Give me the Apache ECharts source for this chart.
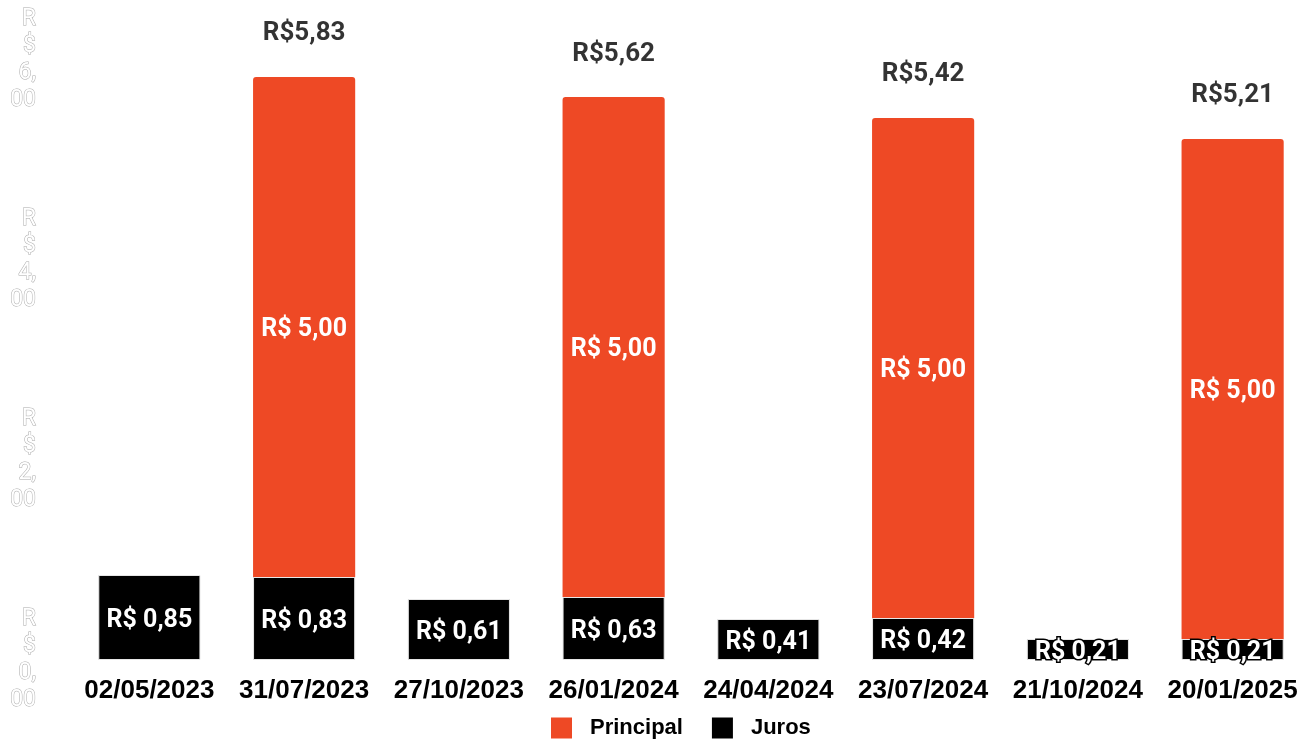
<!doctype html>
<html>
<head>
<meta charset="utf-8">
<title>Principal e Juros</title>
<script src="https://cdn.jsdelivr.net/npm/echarts@6/dist/echarts.min.js"></script>
<style>
html,body{margin:0;padding:0;background:#fff;}
#chart{width:1310px;height:740px;}
</style>
</head>
<body>
<div id="chart"></div>
<script type="text/javascript">
// datas de pagamento
var datas = ['02/05/2023', '31/07/2023', '27/10/2023', '26/01/2024', '24/04/2024', '23/07/2024', '21/10/2024', '20/01/2025'];
var juros = [0.85, 0.83, 0.61, 0.63, 0.41, 0.42, 0.21, 0.21];
var principal = [null, 5.00, null, 5.00, null, 5.00, null, 5.00];
var totais = [null, 5.83, null, 5.62, null, 5.42, null, 5.21];

function brl(v) {
    return v.toFixed(2).replace('.', ',');
}

var myChart = echarts.init(document.getElementById('chart'));

option = {
    animation: false,
    grid: {
        left: 72,
        right: -1,
        top: 60,
        bottom: 80
    },
    legend: {
        data: ['Principal', 'Juros'],
        top: 712,
        left: 546,
        icon: 'rect',
        itemWidth: 21,
        itemHeight: 21,
        itemGap: 29,
        itemStyle: {
            borderWidth: 0
        },
        textStyle: {
            fontFamily: 'Liberation Sans',
            fontWeight: 'bold',
            fontSize: 22,
            color: '#000',
            padding: [0, 0, 0, 13]
        }
    },
    xAxis: {
        type: 'category',
        data: datas,
        axisLine: {show: false},
        axisTick: {show: false},
        axisLabel: {
            interval: 0,
            margin: 18,
            fontFamily: 'Liberation Sans',
            fontWeight: 'bold',
            fontSize: 26,
            color: '#000'
        }
    },
    yAxis: {
        type: 'value',
        min: 0,
        max: 6,
        interval: 2,
        splitLine: {show: false},
        axisLine: {show: false},
        axisTick: {show: false},
        axisLabel: {
            margin: 36,
            align: 'right',
            fontFamily: 'Roboto',
            fontSize: 23,
            lineHeight: 27,
            color: '#fff',
            textBorderColor: '#aaa',
            textBorderWidth: 1,
            formatter: function (v) {
                var s = brl(v);
                // quebra o texto caractere a caractere como no original
                return 'R\n$\n' + s.slice(0, 2) + '\n' + s.slice(2);
            }
        }
    },
    series: [
        {
            name: 'Juros',
            type: 'bar',
            stack: 'total',
            barWidth: '66%',
            data: juros,
            itemStyle: {
                color: '#000',
                borderColor: '#e6e6e6',
                borderWidth: 1
            },
            label: {
                show: true,
                position: 'inside',
                offset: [0, 3],
                fontFamily: 'Roboto',
                fontWeight: 'bold',
                fontSize: 25,
                color: '#fff',
                textBorderColor: '#000',
                textBorderWidth: 3,
                formatter: function (p) { return 'R$ ' + brl(p.value); }
            }
        },
        {
            name: 'Principal',
            type: 'bar',
            stack: 'total',
            barWidth: '66%',
            data: principal,
            itemStyle: {
                color: '#EE4925',
                borderRadius: [3, 3, 0, 0]
            },
            label: {
                show: true,
                position: 'inside',
                offset: [0, 3],
                fontFamily: 'Roboto',
                fontWeight: 'bold',
                fontSize: 25,
                color: '#fff',
                formatter: function (p) { return 'R$ ' + brl(p.value); }
            }
        },
        {
            name: 'Total',
            type: 'scatter',
            data: totais,
            symbolSize: 0,
            silent: true,
            label: {
                show: true,
                position: 'top',
                distance: 31,
                fontFamily: 'Roboto',
                fontWeight: 'bold',
                fontSize: 26,
                color: '#000',
                textBorderColor: '#fff',
                textBorderWidth: 3,
                formatter: function (p) { return 'R$' + brl(p.value); }
            }
        }
    ]
};

myChart.setOption(option);
</script>
</body>
</html>
